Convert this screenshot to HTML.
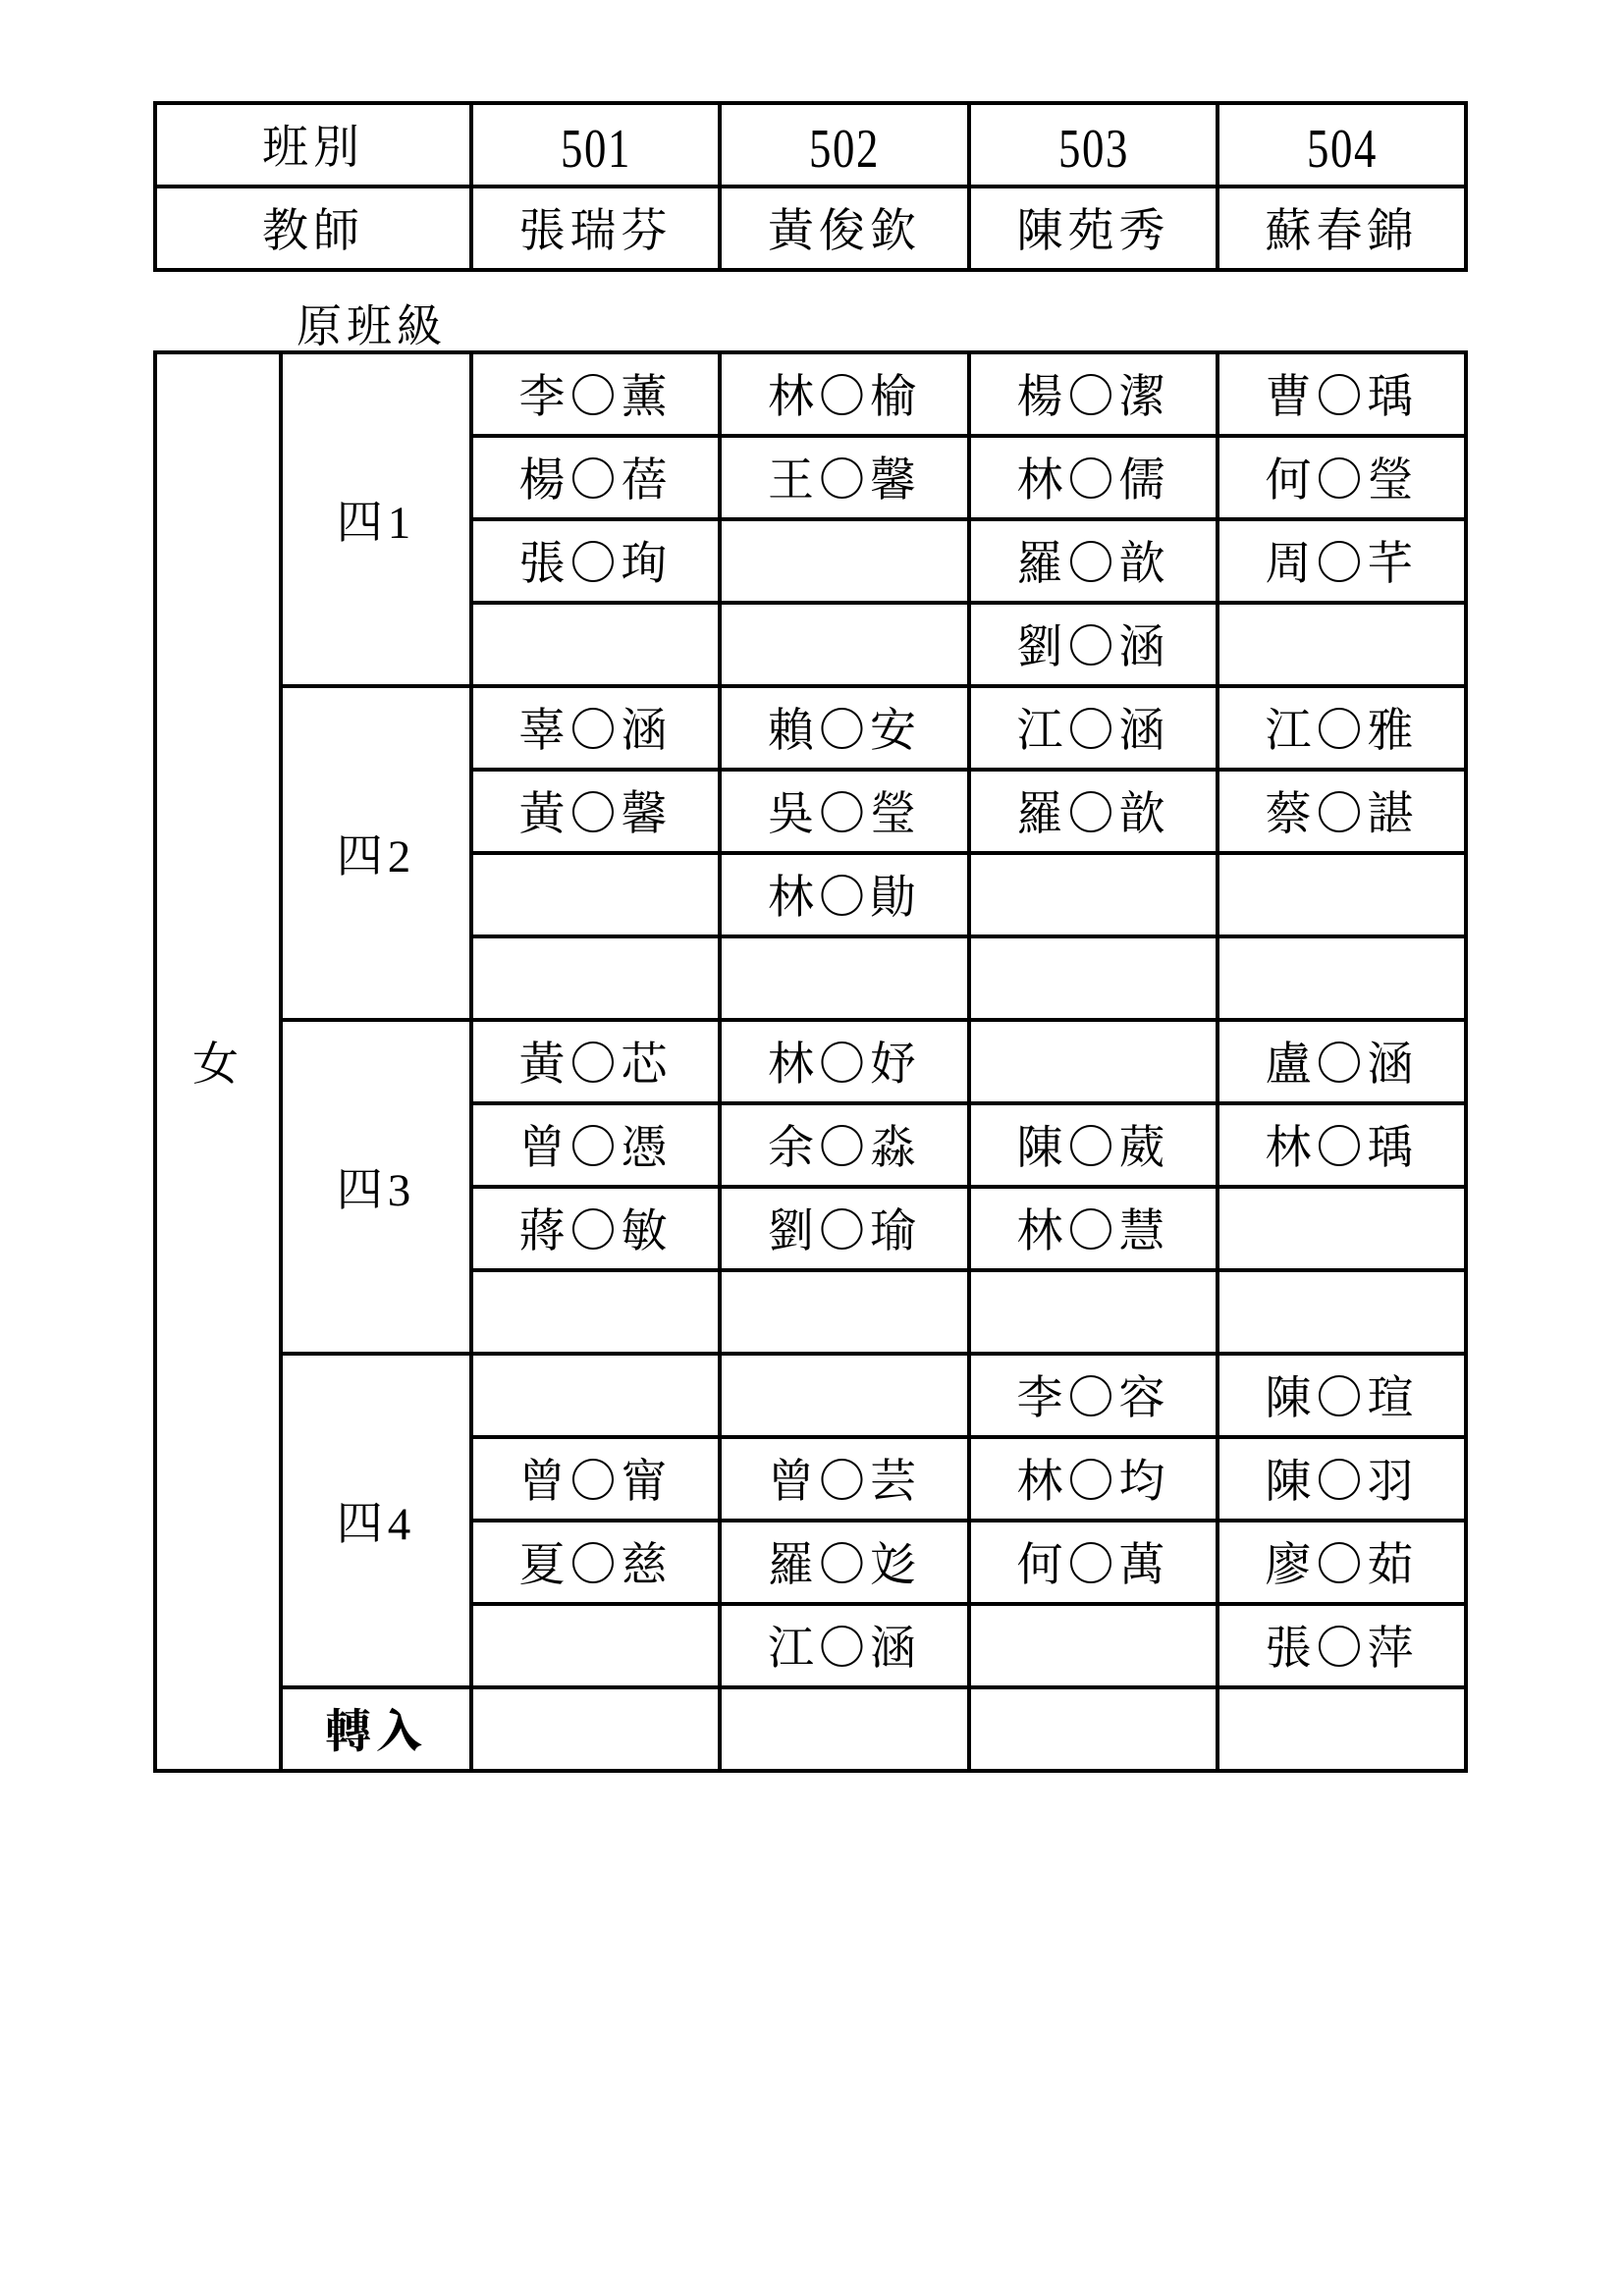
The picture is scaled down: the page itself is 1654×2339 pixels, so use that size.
<!DOCTYPE html>
<html><head><meta charset="utf-8"><style>
html,body{margin:0;padding:0;background:#fff;width:1654px;height:2339px;overflow:hidden}
body{position:relative;font-family:"Liberation Serif","Noto Serif CJK SC",serif;color:#000}
table{position:absolute;border-collapse:collapse;table-layout:fixed}
td{border:4px solid #000;text-align:center;vertical-align:middle;padding:8px 0 0 0;font-size:47px;letter-spacing:5px;white-space:nowrap;line-height:1}
.num{font-size:56px;letter-spacing:2px;transform:scaleX(0.8)}
#t1{left:156px;top:103px;width:1335px}
#t1 td{height:73px}
#t2{left:156px;top:357px;width:1335px}
#t2 td{height:73px}
.lab{position:absolute;left:302px;top:296px;font-size:46px;letter-spacing:5px}
</style></head><body>
<table id="t1">
<colgroup><col style="width:322px"><col style="width:253px"><col style="width:254px"><col style="width:253px"><col style="width:253px"></colgroup>
<tr><td>班別</td><td><span class="num" style="display:inline-block">501</span></td><td><span class="num" style="display:inline-block">502</span></td><td><span class="num" style="display:inline-block">503</span></td><td><span class="num" style="display:inline-block">504</span></td></tr>
<tr><td>教師</td><td>張瑞芬</td><td>黃俊欽</td><td>陳苑秀</td><td>蘇春錦</td></tr>
</table>
<div class="lab">原班級</div>
<table id="t2">
<colgroup><col style="width:128px"><col style="width:194px"><col style="width:253px"><col style="width:254px"><col style="width:253px"><col style="width:253px"></colgroup>
<tr><td rowspan="17">女</td><td rowspan="4">四1</td><td>李〇薰</td><td>林〇榆</td><td>楊〇潔</td><td>曹〇瑀</td></tr>
<tr><td>楊〇蓓</td><td>王〇馨</td><td>林〇儒</td><td>何〇瑩</td></tr>
<tr><td>張〇珣</td><td></td><td>羅〇歆</td><td>周〇芊</td></tr>
<tr><td></td><td></td><td>劉〇涵</td><td></td></tr>
<tr><td rowspan="4">四2</td><td>辜〇涵</td><td>賴〇安</td><td>江〇涵</td><td>江〇雅</td></tr>
<tr><td>黃〇馨</td><td>吳〇瑩</td><td>羅〇歆</td><td>蔡〇諶</td></tr>
<tr><td></td><td>林〇勛</td><td></td><td></td></tr>
<tr><td></td><td></td><td></td><td></td></tr>
<tr><td rowspan="4">四3</td><td>黃〇芯</td><td>林〇妤</td><td></td><td>盧〇涵</td></tr>
<tr><td>曾〇憑</td><td>余〇淼</td><td>陳〇葳</td><td>林〇瑀</td></tr>
<tr><td>蔣〇敏</td><td>劉〇瑜</td><td>林〇慧</td><td></td></tr>
<tr><td></td><td></td><td></td><td></td></tr>
<tr><td rowspan="4">四4</td><td></td><td></td><td>李〇容</td><td>陳〇瑄</td></tr>
<tr><td>曾〇甯</td><td>曾〇芸</td><td>林〇均</td><td>陳〇羽</td></tr>
<tr><td>夏〇慈</td><td>羅〇彣</td><td>何〇萬</td><td>廖〇茹</td></tr>
<tr><td></td><td>江〇涵</td><td></td><td>張〇萍</td></tr>
<tr><td style="font-weight:bold">轉入</td><td></td><td></td><td></td><td></td></tr>
</table>
</body></html>
